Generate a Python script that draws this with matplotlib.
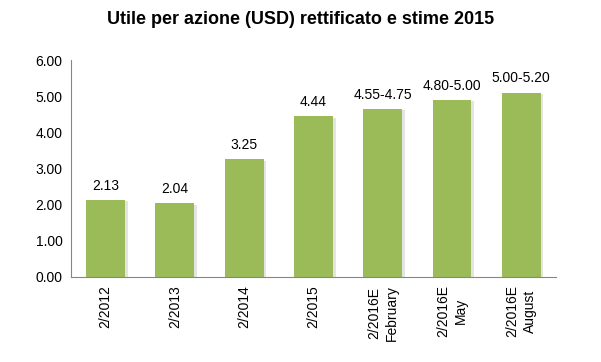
import matplotlib
matplotlib.use("Agg")
import matplotlib.pyplot as plt
import matplotlib.patheffects as pe

categories = ["2/2012", "2/2013", "2/2014", "2/2015",
              "2/2016E\nFebruary", "2/2016E\nMay", "2/2016E\nAugust"]
values = [2.13, 2.04, 3.25, 4.44, 4.65, 4.90, 5.10]
labels = ["2.13", "2.04", "3.25", "4.44", "4.55-4.75", "4.80-5.00", "5.00-5.20"]
yticks = [0, 1, 2, 3, 4, 5, 6]

plt.rcParams['font.family'] = ['Liberation Sans', 'DejaVu Sans']

fig = plt.figure(figsize=(6.01, 3.62), dpi=100)
ax = fig.add_axes([0.118, 0.235, 0.807, 0.599])

x = range(len(categories))
bars = ax.bar(x, values, width=0.56, color="#9BBB59", zorder=2,
              path_effects=[pe.SimplePatchShadow(offset=(2, -1), shadow_rgbFace="#e4e4e4", alpha=1.0),
                            pe.Normal()])

for xi, v, lab in zip(x, values, labels):
    ax.text(xi, v + 0.2, lab, ha="center", va="bottom", fontsize=10, color="#000000")

ax.set_xlim(-0.5, len(categories) - 0.5)
ax.set_ylim(0, 6)
ax.set_yticks(yticks)
ax.set_yticklabels(["%.2f" % t for t in yticks], fontsize=10)
ax.set_xticks(list(x))
ax.set_xticklabels(categories, rotation=90, fontsize=10, ha="center", va="top",
                   multialignment="center", linespacing=1.35)
ax.tick_params(axis="both", length=0, pad=6)

for s in ["top", "right"]:
    ax.spines[s].set_visible(False)
for s in ["left", "bottom"]:
    ax.spines[s].set_color("#868686")
    ax.spines[s].set_linewidth(0.8)

fig.text(0.5, 0.945, "Utile per azione (USD) rettificato e stime 2015",
         ha="center", va="center", fontsize=13, fontweight="bold")

fig.savefig("out.png", dpi=100)
